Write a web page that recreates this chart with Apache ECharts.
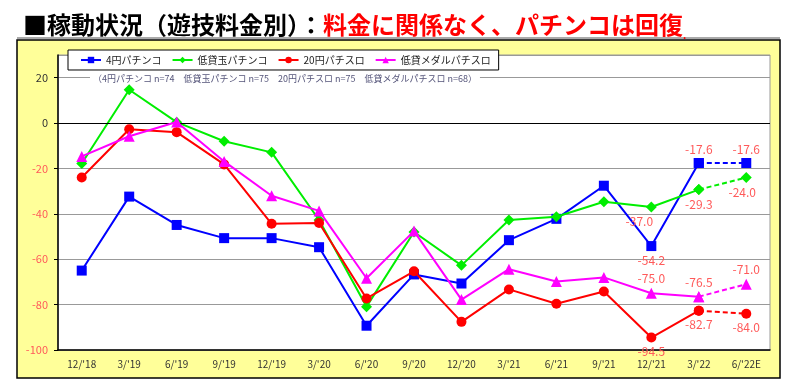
<!DOCTYPE html>
<html><head><meta charset="utf-8">
<script src="https://cdn.jsdelivr.net/npm/echarts@6/dist/echarts.min.js"></script>
<style>html,body{margin:0;padding:0;background:#fff;}#c{width:800px;height:388px;}</style>
</head><body><div id="c"></div>
<script>
const categories = ["12/'18","3/'19","6/'19","9/'19","12/'19","3/'20","6/'20","9/'20","12/'20","3/'21","6/'21","9/'21","12/'21","3/'22","6/'22E"];
const seriesNames = ["4円パチンコ","低貸玉パチンコ","20円パチスロ","低貸メダルパチスロ"];
const pachinko4 = [-65,-32.4,-44.9,-50.7,-50.7,-54.7,-89.3,-66.7,-70.7,-51.6,-42.2,-27.6,-54.2,-17.6,-17.6];
const pachinkoLow = [-17.8,14.7,0.4,-8,-12.9,-42.7,-80.9,-48,-62.7,-42.7,-41.3,-34.7,-37.0,-29.3,-24.0];
const slot20 = [-24,-2.7,-4,-18.2,-44.4,-44,-77.3,-65.3,-87.6,-73.3,-79.6,-74.2,-94.5,-82.7,-84.0];
const slotLow = [-14.7,-5.8,0.5,-16.9,-32,-38.7,-68.4,-47.6,-77.8,-64.4,-69.8,-68,-75.0,-76.5,-71.0];
const yTicks = {min:-100, max:30, interval:20};
const subNote = "（4円パチンコ n=74　低貸玉パチンコ n=75　20円パチスロ n=75　低貸メダルパチスロ n=68）";

const colors = ['#0000ff','#00ee00','#ff0000','#ff00ff'];
const symbols = ['rect','diamond','circle','triangle'];
const symSizes = [10,11,10,11];
const labelPos = ['bottom','bottom','bottom','top'];
const labelPosBlue = {12:'bottom',13:'top',14:'top'};
const allData = [pachinko4,pachinkoLow,slot20,slotLow];
const LBL = '#ff5a5a';
const FONT = '"Noto Sans CJK JP","Noto Sans",sans-serif';
const last = categories.length - 1;

function fmt(v){return v.toFixed(1);}
function lbl(si, i){
  let pos = si===0 ? labelPosBlue[i] : labelPos[si];
  const o = {show:true, position:pos, color:LBL, fontSize:12, fontFamily:FONT, formatter:p=>fmt(p.value), distance:3};
  if (si===1 && i===12) o.offset=[-12,0];
  if (si===1 && i===14) o.offset=[-4,0];
  return o;
}
const series = [];
allData.forEach((arr, si) => {
  const solid = arr.map((v,i)=> i===last ? null : (i>=12 ? {value:v, label:lbl(si,i)} : v));
  const dash = arr.map((v,i)=> i===last ? {value:v, label:lbl(si,i)} : (i===last-1 ? v : null));
  const base = {type:'line', symbol:symbols[si], symbolSize:symSizes[si], itemStyle:{color:colors[si]}, animation:false, z:3+si};
  series.push(Object.assign({}, base, {name:seriesNames[si], data:solid, lineStyle:{color:colors[si], width:2}}));
  series.push(Object.assign({}, base, {name:seriesNames[si]+'_f', data:dash, lineStyle:{color:colors[si], width:2, type:[5,3]}}));
});
series[0].markLine = {silent:true, symbol:'none', animation:false, label:{show:false}, lineStyle:{color:'#000', type:'solid', width:1}, data:[{yAxis:0}]};

const chart = echarts.init(document.getElementById('c'), null, {renderer:'canvas'});
chart.setOption({
  backgroundColor:'transparent',
  textStyle:{fontFamily:FONT},
  title:{left:18, top:5, text:'{a|■稼動状況（遊技料金別）：}{b|料金に関係なく、パチンコは回復}{c|.}',
    textStyle:{rich:{
      a:{fontSize:24, fontWeight:'bold', color:'#000', fontFamily:FONT, lineHeight:30},
      b:{fontSize:24, fontWeight:'bold', color:'#ff0000', fontFamily:FONT, lineHeight:30},
      c:{fontSize:10, color:'#ff0000', fontFamily:FONT, verticalAlign:'bottom', lineHeight:30}
    }}},
  graphic:[
    {type:'line', shape:{x1:17,y1:38,x2:780,y2:38}, style:{stroke:'#aaa', lineWidth:2}, z:-10},
    {type:'rect', shape:{x:17,y:40,width:763,height:338}, style:{fill:'#ffff99', stroke:'#000', lineWidth:1.5}, z:-10},
    {type:'text', left:90, top:73, z:5, style:{text:subNote, fill:'#55557a', font:'9px '+FONT, backgroundColor:'#fff', padding:[1,3]}}
  ],
  legend:{
    data:seriesNames, left:68, top:50, orient:'horizontal', backgroundColor:'#fff', borderColor:'#000', borderWidth:1,
    padding:[5,8,5,12], itemGap:10, itemWidth:20, itemHeight:8, textStyle:{fontSize:10, color:'#222', fontFamily:FONT}
  },
  grid:{left:58, right:30, top:55, bottom:38, show:true, backgroundColor:'#fff', borderColor:'#999', borderWidth:1},
  xAxis:{type:'category', data:categories, boundaryGap:true,
    axisLine:{onZero:false, lineStyle:{color:'#000', width:1.5}}, axisTick:{show:false},
    axisLabel:{fontSize:10, color:'#333', margin:9, fontFamily:FONT}},
  yAxis:{type:'value', min:yTicks.min, max:yTicks.max, interval:yTicks.interval,
    axisLine:{show:true, lineStyle:{color:'#000', width:1.5}}, axisTick:{show:true, length:4, lineStyle:{color:'#000'}},
    splitLine:{lineStyle:{color:'#999', width:1}},
    axisLabel:{showMaxLabel:false, fontSize:11, margin:10, fontFamily:FONT, color:(v)=> (v<0 ? LBL : '#333')}},
  series:series
});
</script></body></html>
